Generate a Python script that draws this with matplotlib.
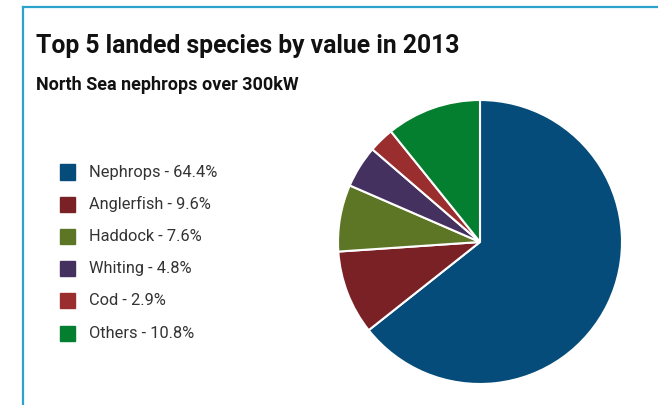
import matplotlib
matplotlib.use("Agg")
import matplotlib.pyplot as plt
from matplotlib.patches import Rectangle
from matplotlib.lines import Line2D

# data
species = ["Nephrops", "Anglerfish", "Haddock", "Whiting", "Cod", "Others"]
shares = [64.4, 9.6, 7.6, 4.8, 2.9, 10.8]
colors = ["#054c7a", "#7a2126", "#5d7625", "#45315f", "#9a2d2e", "#047f30"]

plt.rcParams["font.family"] = ["Roboto", "DejaVu Sans"]

W, H = 658, 405
fig = plt.figure(figsize=(W / 100, H / 100), dpi=100)

# teal frame (top + left edges only visible)
fig.add_artist(Line2D([22.5 / W, 1], [1 - 7 / H, 1 - 7 / H], color="#2ba3cc", lw=1.6))
fig.add_artist(Line2D([22.5 / W, 22.5 / W], [0, 1 - 7 / H], color="#2ba3cc", lw=1.6))

fig.text(36 / W, 1 - 46.5 / H, "Top 5 landed species by value in 2013",
         fontsize=17.8, fontweight="bold", va="center", ha="left", color="#111111")
fig.text(36 / W, 1 - 84.5 / H, "North Sea nephrops over 300kW",
         fontsize=13, fontweight="bold", va="center", ha="left", color="#111111")

# pie
cx, cy, r = 480, 242, 142
ax = fig.add_axes([(cx - r) / W, (H - cy - r) / H, 2 * r / W, 2 * r / H])
ax.pie(shares, colors=colors, startangle=90, counterclock=False,
       wedgeprops=dict(edgecolor="white", linewidth=1.5))
ax.set_xlim(-1, 1)
ax.set_ylim(-1, 1)
ax.set_aspect("equal")
ax.axis("off")

# legend
for i, (name, val, c) in enumerate(zip(species, shares, colors)):
    y = 172 + i * 32.2
    fig.add_artist(Rectangle((60 / W, 1 - (y + 7.5) / H), 15 / W, 15 / H,
                             transform=fig.transFigure, color=c))
    fig.text(89 / W, 1 - y / H, f"{name} - {val}%", fontsize=11.8,
             va="center", ha="left", color="#333333")

fig.savefig("out.png", dpi=100)
